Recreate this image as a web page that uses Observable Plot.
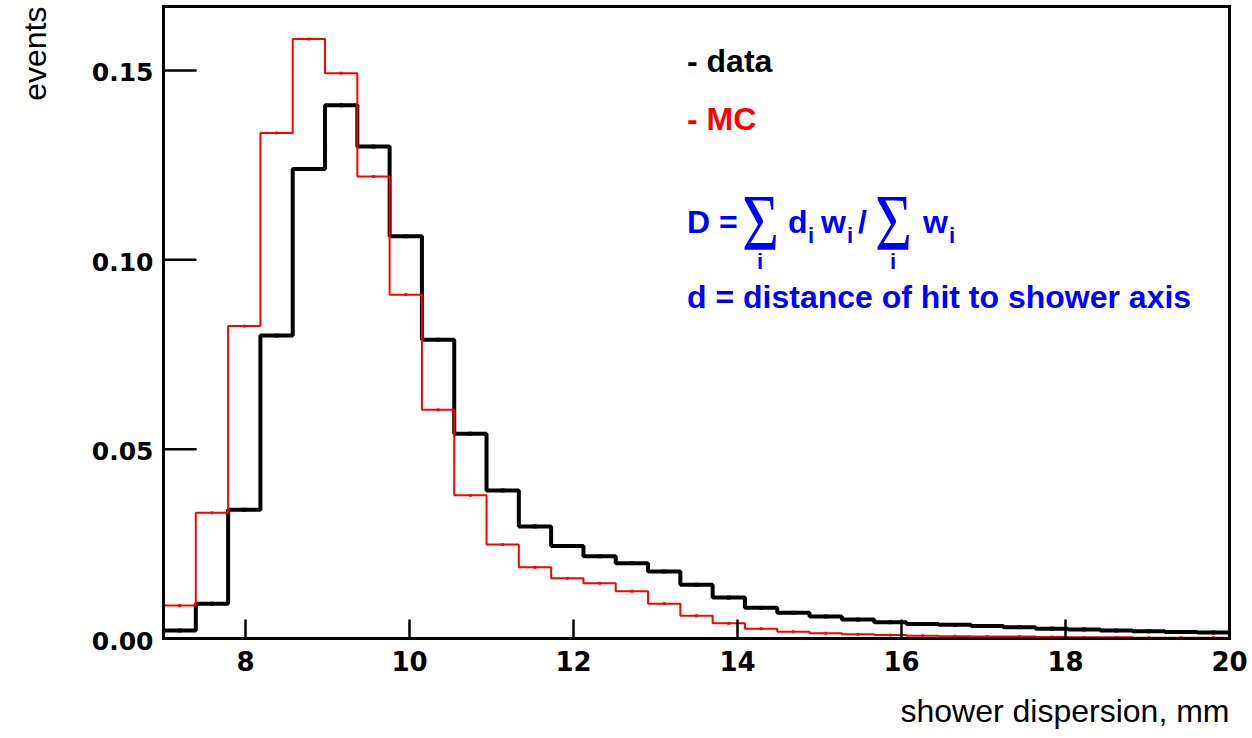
<!DOCTYPE html>
<html>
<head>
<meta charset="utf-8">
<script src="https://cdn.jsdelivr.net/npm/d3@7"></script>
<script src="https://cdn.jsdelivr.net/npm/@observablehq/plot@0.6"></script>
<style>
  html, body { margin: 0; padding: 0; background: #ffffff; }
  #wrap { position: relative; width: 1252px; height: 738px; overflow: hidden; }
  #legend { position: absolute; left: 0; top: 0; pointer-events: none; }
</style>
</head>
<body>
<div id="wrap"></div>
<script>
// ---- histogram definition (33 bins from 7 to 20 mm) ----
const xMin = 7;
const xMax = 20;
const nBins = 33;

// ---- bin contents ----
const dataValues = [0.0021, 0.0092, 0.0340, 0.0800, 0.1240, 0.1408, 0.1299, 0.1062, 0.0789, 0.0541,
  0.0391, 0.0296, 0.0244, 0.0217, 0.0199, 0.0177, 0.0142, 0.0108, 0.0081, 0.0068,
  0.0058, 0.0050, 0.0043, 0.0038, 0.0036, 0.0033, 0.0030, 0.0026, 0.0024, 0.0021,
  0.0019, 0.0017, 0.0016];
const mcValues = [0.0087, 0.0332, 0.0825, 0.1335, 0.1583, 0.1493, 0.1220, 0.0908, 0.0604, 0.0378,
  0.0248, 0.0188, 0.0159, 0.0146, 0.0125, 0.0092, 0.0060, 0.0040, 0.0026, 0.0018,
  0.0014, 0.0011, 0.0009, 0.0007, 0.0006, 0.0005, 0.0005, 0.0004, 0.0003, 0.0003,
  0.0002, 0.0002, 0.0002];

// ---- axes ----
const xTicks = [8, 10, 12, 14, 16, 18, 20];
const yTicks = [0, 0.05, 0.10, 0.15];
const yMax = 0.1669;
const xTitle = "shower dispersion, mm";
const yTitle = "events";

// ---- legend texts ----
const legendDataLabel = "- data";
const legendMCLabel = "- MC";
const formulaNote = "d = distance of hit to shower axis";

const binWidth = (xMax - xMin) / nBins;
function stepPoints(vals) {
  const pts = vals.map((v, i) => ({x: xMin + i * binWidth, y: v}));
  pts.push({x: xMax, y: vals[vals.length - 1]});
  return pts;
}
function centerPoints(vals) {
  return vals.map((v, i) => ({x: xMin + (i + 0.5) * binWidth, y: v}));
}

const tickShape = {draw(ctx, l) { ctx.moveTo(0, 0); ctx.lineTo(0, -l); }};
const labelFont = "DejaVu Sans, Liberation Sans, Arial, sans-serif";
const textFont = "Liberation Sans, Arial, Helvetica, sans-serif";

const chart = Plot.plot({
  width: 1252,
  height: 738,
  marginLeft: 163,
  marginRight: 23,
  marginTop: 6,
  marginBottom: 100,
  style: {background: "#ffffff", color: "black"},
  x: {domain: [xMin, xMax]},
  y: {domain: [0, yMax]},
  marks: [
    Plot.line(stepPoints(dataValues), {x: "x", y: "y", curve: "step-after", stroke: "black", strokeWidth: 4, strokeLinejoin: "miter", strokeLinecap: "butt"}),
    Plot.dot(centerPoints(dataValues), {x: "x", y: "y", symbol: "square", r: 2.2, fill: "black", stroke: "none"}),
    Plot.line(stepPoints(mcValues), {x: "x", y: "y", curve: "step-after", stroke: "#ff0000", strokeWidth: 2, strokeLinejoin: "miter", strokeLinecap: "butt"}),
    Plot.dot(centerPoints(mcValues), {x: "x", y: "y", symbol: "square", r: 1.6, fill: "#ff0000", stroke: "none"}),
    Plot.frame({stroke: "black", strokeWidth: 3, fill: "none"}),
    Plot.vector(xTicks, {x: d => d, y: () => 0, length: 18, rotate: 0, anchor: "start", shape: tickShape, stroke: "black", strokeWidth: 2.5}),
    Plot.vector(yTicks, {x: () => xMin, y: d => d, length: 32, rotate: 90, anchor: "start", shape: tickShape, stroke: "black", strokeWidth: 2.5}),
    Plot.axisX(xTicks, {tickSize: 0, tickPadding: 14, label: null, fontSize: 26, fontWeight: "bold", fontFamily: labelFont, fill: "black"}),
    Plot.axisY(yTicks, {tickSize: 0, tickPadding: 10, dy: 3, label: null, tickFormat: d3.format(".2f"), fontSize: 25, fontWeight: "bold", fontFamily: labelFont, fill: "black"}),
    Plot.text([xTitle], {text: d => d, frameAnchor: "bottom-right", dy: 83, textAnchor: "end", fontSize: 32, fontFamily: textFont, fill: "black"}),
    Plot.text([yTitle], {text: d => d, frameAnchor: "top-left", rotate: -90, textAnchor: "end", dx: -140, fontSize: 32, fontFamily: textFont, fill: "black"})
  ]
});

const wrap = document.getElementById("wrap");
wrap.appendChild(chart);

// ---- legend / annotation overlay ----
const svgNS = "http://www.w3.org/2000/svg";
const leg = document.createElementNS(svgNS, "svg");
leg.setAttribute("id", "legend");
leg.setAttribute("width", 1252);
leg.setAttribute("height", 738);
wrap.appendChild(leg);

function setAttrs(el, attrs) {
  for (const k in attrs) if (attrs[k] != null) el.setAttribute(k, attrs[k]);
  return el;
}
function addText(str, x, y, opts = {}) {
  const t = setAttrs(document.createElementNS(svgNS, "text"), {
    x, y,
    "font-family": opts.family || textFont,
    "font-size": opts.size || 32,
    "font-weight": opts.weight || "bold",
    fill: opts.fill || "black",
    "text-anchor": opts.anchor || null,
    textLength: opts.textLength || null,
    lengthAdjust: opts.textLength ? "spacingAndGlyphs" : null
  });
  t.textContent = str;
  leg.appendChild(t);
  return t;
}

const blue = "#0000ff";
const sigmaFont = "Liberation Serif, Times New Roman, serif";
addText(legendDataLabel, 687, 72, {fill: "black"});
addText(legendMCLabel, 687, 130, {fill: "#ff0000"});

// D = sum_i d_i w_i / sum_i w_i
addText("D =", 687, 233, {fill: blue});
addText("\u03A3", 742, 250, {fill: blue, size: 80, weight: "normal", family: sigmaFont, textLength: 37});
addText("i", 760, 269, {fill: blue, size: 22, anchor: "middle"});
addText("d", 788, 233, {fill: blue});
addText("i", 808, 243, {fill: blue, size: 22});
addText("w", 821, 233, {fill: blue});
addText("i", 847, 243, {fill: blue, size: 22});
addText("/", 858, 233, {fill: blue});
addText("\u03A3", 875, 250, {fill: blue, size: 80, weight: "normal", family: sigmaFont, textLength: 37});
addText("i", 893, 269, {fill: blue, size: 22, anchor: "middle"});
addText("w", 923, 233, {fill: blue});
addText("i", 949, 243, {fill: blue, size: 22});

addText(formulaNote, 687, 308, {fill: blue});
</script>
</body>
</html>
